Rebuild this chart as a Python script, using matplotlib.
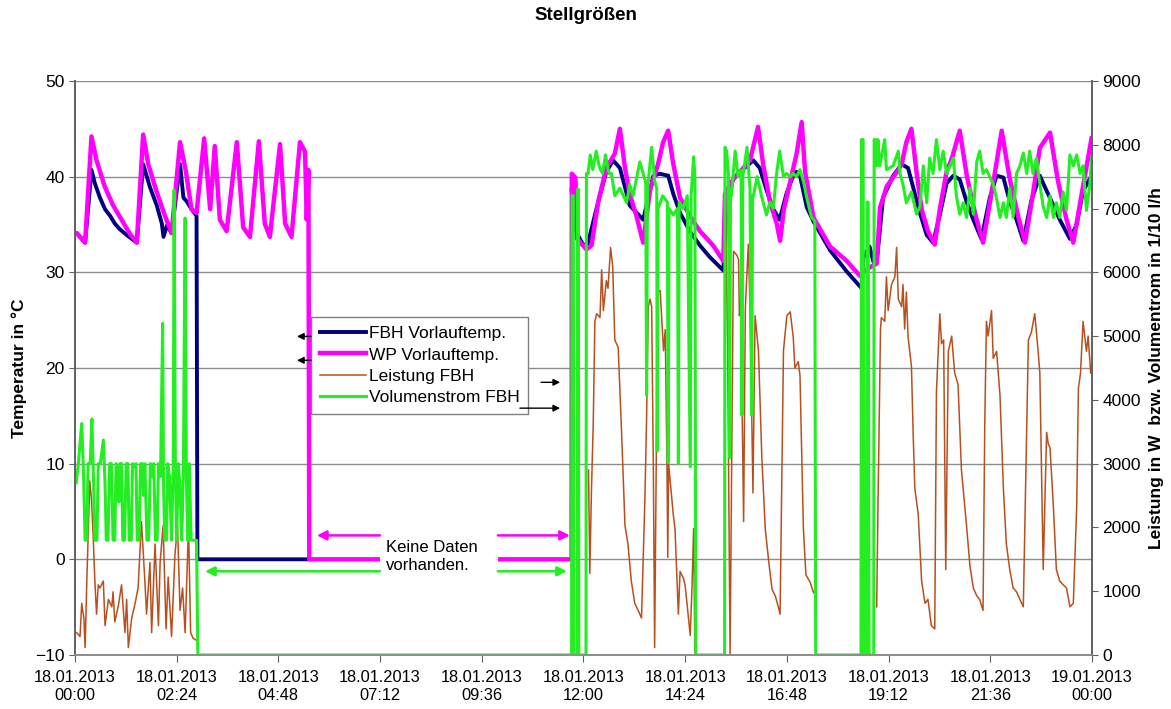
import numpy as np
import matplotlib
matplotlib.use("Agg")
import matplotlib.pyplot as plt
from matplotlib.patches import Rectangle

plt.rcParams['font.family'] = ['Liberation Sans', 'DejaVu Sans']

nan = float('nan')

# Zeitachse in Stunden ab 18.01.2013 00:00
tick_stunden = [0, 2.4, 4.8, 7.2, 9.6, 12.0, 14.4, 16.8, 19.2, 21.6, 24.0]
tick_labels = ['18.01.2013\n00:00', '18.01.2013\n02:24', '18.01.2013\n04:48',
               '18.01.2013\n07:12', '18.01.2013\n09:36', '18.01.2013\n12:00',
               '18.01.2013\n14:24', '18.01.2013\n16:48', '18.01.2013\n19:12',
               '18.01.2013\n21:36', '19.01.2013\n00:00']

# FBH Vorlauftemp. (°C)
fbh_h = [0.00, 0.04, 0.24, 0.39, 0.47, 0.59, 0.71, 0.83, 0.94, 1.06, 1.22, 1.46,
         1.61, 1.77, 1.93, 2.05, 2.09, 2.17, 2.28, 2.48, 2.56, 2.64, 2.75, 2.87,
         2.89, 5.53, 5.54,
         11.72, 11.82, 11.94, 12.07, 12.35, 12.54, 12.70, 12.86, 12.98, 13.09, 13.41,
         13.65, 13.80, 14.00, 14.12, 14.28, 14.51, 14.75, 14.98, 15.30, 15.38, 15.53,
         15.69, 16.01, 16.16, 16.32, 16.48, 16.63, 16.79, 16.95, 17.03, 17.11, 17.27,
         17.43, 17.82, 18.21, 18.57, 18.60, 18.75, 18.85, 18.92, 19.07, 19.31, 19.51,
         19.66, 19.78, 19.94, 20.10, 20.25, 20.41, 20.57, 20.73, 20.88, 21.04, 21.20,
         21.39, 21.59, 21.75, 21.91, 22.06, 22.22, 22.38, 22.57, 22.77, 22.89, 23.09,
         23.24, 23.48, 23.64, 23.79, 23.99]
fbh_t = [34.1, 34.1, 33.1, 40.7, 39.3, 37.8, 36.6, 35.9, 35.1, 34.5, 33.9, 33.1,
         41.3, 38.9, 37.0, 35.1, 33.7, 34.9, 34.1, 41.3, 37.8, 37.4, 36.6, 35.9,
         0.0, 0.0, nan,
         38.6, 34.3, 33.3, 32.4, 37.4, 40.5, 41.7, 40.9, 38.9, 37.0, 35.5,
         40.1, 40.3, 40.1, 38.2, 36.2, 34.3, 32.8, 31.6, 30.2, 37.0, 39.7,
         40.5, 41.7, 40.9, 38.6, 36.6, 35.5, 38.2, 40.1, 40.5, 40.1, 36.8,
         35.3, 32.3, 30.1, 28.3, 31.5, 32.7, 31.0, 31.0, 37.8, 40.1, 41.3,
         40.9, 38.9, 36.2, 33.9, 33.1, 36.0, 39.3, 40.1, 39.7, 37.4, 35.5,
         33.5, 37.8, 40.1, 39.9, 37.4, 35.5, 33.3, 37.5, 40.1, 38.9, 37.0,
         35.5, 33.5, 35.0, 38.5, 40.1]

# WP Vorlauftemp. (°C)
wp_h = [0.00, 0.04, 0.24, 0.39, 0.51, 0.70, 0.90, 1.10, 1.30, 1.46, 1.61, 1.73,
        1.90, 2.10, 2.28, 2.48, 2.62, 2.75, 2.87, 3.05, 3.19, 3.30, 3.42, 3.58,
        3.82, 3.97, 4.13, 4.34, 4.48, 4.60, 4.84, 4.96, 5.11, 5.31, 5.43, 5.47,
        5.51, 5.53, 11.72, 11.725, 11.81, 11.85, 12.07, 12.19, 12.35, 12.54, 12.74,
        12.86, 12.98, 13.09, 13.25, 13.41, 13.57, 13.76, 13.88, 14.00, 14.12, 14.28,
        14.51, 14.75, 15.06, 15.30, 15.34, 15.53, 15.69, 15.93, 16.12, 16.24, 16.40,
        16.56, 16.64, 16.73, 16.87, 17.03, 17.15, 17.23, 17.43, 17.82, 18.21, 18.53,
        18.60, 18.75, 18.92, 19.00, 19.16, 19.40, 19.51, 19.62, 19.74, 19.86, 19.98,
        20.13, 20.29, 20.41, 20.57, 20.70, 20.88, 21.05, 21.25, 21.43, 21.60, 21.75,
        21.87, 22.05, 22.25, 22.42, 22.60, 22.77, 23.01, 23.20, 23.40, 23.56, 23.75,
        23.99]
wp_t = [34.1, 34.1, 33.1, 44.2, 41.7, 39.0, 37.0, 35.5, 34.0, 33.1, 44.4, 41.3,
        38.8, 36.2, 34.1, 43.6, 40.5, 36.6, 36.2, 44.0, 36.6, 43.2, 35.5, 34.3,
        43.6, 34.7, 33.7, 43.7, 35.1, 33.7, 43.4, 35.1, 33.7, 43.6, 42.6, 35.5,
        40.7, 0.0, 0.0, 40.3, 39.9, 33.5, 32.4, 32.8, 37.4, 40.9, 42.4,
        45.0, 40.9, 38.2, 35.9, 33.1, 38.6, 41.3, 43.6, 44.8, 41.3, 37.8,
        35.9, 34.3, 32.8, 31.2, 38.2, 39.7, 40.5, 41.7, 45.2, 41.3, 37.4,
        35.1, 33.3, 36.6, 39.3, 42.4, 45.7, 40.5, 35.7, 32.7, 31.2, 29.6,
        30.0, 30.5, 30.9, 36.8, 39.0, 40.5, 41.3, 43.6, 45.0, 40.5, 36.6,
        34.3, 32.9, 36.6, 40.5, 42.0, 44.8, 40.0, 36.0, 33.1, 37.5, 41.5,
        44.8, 40.0, 36.0, 33.1, 38.0, 43.0, 44.6, 39.5, 35.5, 33.1, 38.0,
        44.0]

# Leistung FBH (W)
leistung_h = [0.04, 0.12, 0.16, 0.21, 0.24, 0.28, 0.35, 0.39, 0.43, 0.47, 0.51, 0.55,
              0.59, 0.67, 0.71, 0.79, 0.87, 0.90, 0.94, 1.02, 1.10, 1.18, 1.22, 1.26,
              1.34, 1.42, 1.49, 1.57, 1.65, 1.69, 1.77, 1.81, 1.89, 1.97, 2.01, 2.08,
              2.15, 2.20, 2.28, 2.36, 2.42, 2.48, 2.54, 2.60, 2.68, 2.73, 2.79, 2.87,
              2.88,
              12.12, 12.15, 12.19, 12.23, 12.27, 12.31, 12.39, 12.43, 12.47, 12.54, 12.58,
              12.64, 12.69, 12.74, 12.82, 12.90, 12.98, 13.05, 13.13, 13.21, 13.29, 13.37,
              13.45, 13.49, 13.53, 13.57, 13.61, 13.65, 13.68, 13.72, 13.76, 13.81, 13.89,
              13.93, 13.97, 13.99, 14.01, 14.12, 14.16, 14.20, 14.24, 14.28, 14.36, 14.40,
              14.47, 14.52, 14.56, 14.60, 14.63, 15.34, 15.35, 15.40, 15.46, 15.50, 15.54,
              15.62, 15.66, 15.68, 15.71, 15.78, 15.82, 15.89, 15.93, 16.00, 16.05, 16.13,
              16.21, 16.29, 16.37, 16.45, 16.53, 16.60, 16.64, 16.72, 16.80, 16.88, 16.95,
              16.99, 17.07, 17.11, 17.19, 17.25, 17.35, 17.43, 17.44,
              18.92, 18.95, 19.01, 19.03, 19.11, 19.15, 19.19, 19.27, 19.35, 19.39, 19.43,
              19.51, 19.54, 19.58, 19.62, 19.66, 19.74, 19.78, 19.82, 19.90, 19.98, 20.06,
              20.13, 20.21, 20.29, 20.33, 20.41, 20.45, 20.50, 20.55, 20.61, 20.69, 20.76,
              20.84, 20.92, 21.04, 21.12, 21.20, 21.28, 21.35, 21.43, 21.47, 21.51, 21.55,
              21.63, 21.67, 21.75, 21.83, 21.91, 21.98, 22.06, 22.14, 22.22, 22.30, 22.38,
              22.50, 22.57, 22.65, 22.73, 22.77, 22.85, 22.93, 22.97, 23.01, 23.09, 23.16,
              23.24, 23.32, 23.40, 23.48, 23.56, 23.64, 23.68, 23.73, 23.79, 23.83, 23.87,
              23.91, 23.97]
leistung_w = [350, 290, 810, 580, 116, 1160, 2730, 2440, 1860, 1160, 640, 1100,
              1050, 1160, 460, 870, 755, 990, 520, 755, 1100, 350, 870, 116,
              580, 810, 1050, 2090, 1160, 640, 1450, 350, 1740, 460, 1450, 2030,
              410, 1220, 290, 1570, 2030, 700, 1050, 350, 2030, 350, 260, 230,
              nan,
              2900, 1280, 2610, 3600, 5230, 5350, 5290, 6040, 5400, 5870, 5750,
              6390, 6100, 4940, 4820, 3490, 2030, 1740, 1160, 810, 700, 580,
              2440, 3720, 5460, 5580, 5460, 2900, 116, 3200, 5690, 5715, 4770,
              5100, 3040, 1530, 3000, 2200, 1980, 1310, 640, 1310, 1200, 1090,
              640, 307, 1030, 1980, 0, 0, 7220, 5000, 0, 3090, 6330,
              6270, 6200, 5320, 5550, 2090, 5430, 6440, 5490, 2540, 5320, 4770,
              3090, 1980, 1480, 1030, 920, 750, 640, 4770, 5320, 5380, 4990,
              4500, 4600, 4380, 1980, 1255, 1140, 975, nan,
              755, 2320, 5110, 5290, 5230, 5930, 5400, 5810, 5930, 6390, 5580,
              5460, 5810, 5110, 5690, 4990, 4530, 3490, 2610, 2210, 1160, 810,
              870, 460, 410, 4120, 5350, 4880, 4940, 1340, 4760, 5000, 4420,
              4240, 2900, 2030, 1400, 1050, 930, 870, 700, 3600, 5230, 5000,
              5400, 4650, 4760, 4070, 2610, 1740, 1340, 1050, 990, 870, 755,
              4940, 5060, 5350, 4760, 4420, 1340, 3490, 3310, 3250, 2320, 1340,
              1160, 1100, 1050, 755, 810, 2320, 4180, 4420, 5230, 5000, 4760,
              5000, 4420]

# Volumenstrom FBH (1/10 l/h)
volumen_h = [0.03, 0.08, 0.16, 0.20, 0.24, 0.28, 0.31, 0.36, 0.40, 0.44, 0.47, 0.52,
             0.55, 0.60, 0.67, 0.71, 0.74, 0.78, 0.82, 0.86, 0.90, 0.94, 0.97, 1.01,
             1.04, 1.06, 1.10, 1.13, 1.17, 1.21, 1.25, 1.28, 1.33, 1.36, 1.40, 1.44,
             1.47, 1.51, 1.55, 1.59, 1.62, 1.65, 1.70, 1.74, 1.78, 1.82, 1.86, 1.90,
             1.94, 1.97, 2.02, 2.07, 2.09, 2.12, 2.16, 2.19, 2.23, 2.28, 2.32, 2.34,
             2.37, 2.40, 2.44, 2.48, 2.52, 2.56, 2.60, 2.63, 2.66, 2.70, 2.74, 2.80,
             2.87, 2.90, 11.72, 11.73, 11.76, 11.77, 11.85, 11.86, 11.88, 11.89, 12.06,
             12.07, 12.11, 12.16, 12.22, 12.30, 12.38, 12.45, 12.52, 12.60, 12.66, 12.74,
             12.86, 13.02, 13.09, 13.17, 13.33, 13.41, 13.47, 13.49, 13.51, 13.61, 13.68,
             13.73, 13.74, 13.76, 13.87, 13.98, 14.00, 14.02, 14.12, 14.22, 14.24, 14.26,
             14.35, 14.45, 14.52, 14.54, 14.60, 14.63, 14.65, 15.33, 15.34, 15.38, 15.42,
             15.45, 15.47, 15.49, 15.58, 15.65, 15.72, 15.74, 15.76, 15.86, 15.93, 15.97,
             15.99, 16.01, 16.10, 16.20, 16.32, 16.40, 16.48, 16.55, 16.63, 16.72, 16.79,
             16.88, 16.95, 17.03, 17.11, 17.20, 17.26, 17.38, 17.46, 17.48, 18.55, 18.56,
             18.60, 18.62, 18.68, 18.69, 18.72, 18.74, 18.85, 18.86, 18.90, 18.92, 18.95,
             18.99, 19.11, 19.15, 19.31, 19.43, 19.47, 19.54, 19.62, 19.74, 19.86, 19.94,
             20.02, 20.10, 20.17, 20.25, 20.33, 20.41, 20.49, 20.57, 20.73, 20.80, 20.88,
             20.96, 21.04, 21.12, 21.20, 21.28, 21.35, 21.43, 21.51, 21.67, 21.75, 21.83,
             21.91, 21.98, 22.06, 22.14, 22.22, 22.30, 22.38, 22.46, 22.53, 22.61, 22.69,
             22.77, 22.85, 22.93, 23.01, 23.09, 23.16, 23.24, 23.32, 23.40, 23.48, 23.56,
             23.64, 23.72, 23.79, 23.87, 23.95, 23.99]
volumen_v = [2700, 3000, 3630, 2900, 1800, 1800, 3000, 3000, 3700, 2700, 1800, 1800,
             3000, 3000, 3370, 2700, 1800, 1800, 3000, 3000, 1800, 1800, 3000, 2900,
             2400, 3000, 3000, 1800, 1800, 3000, 3000, 1800, 1800, 3000, 2950, 3000,
             1800, 1800, 3000, 3000, 2500, 3000, 1800, 1800, 3000, 2800, 3000, 1800,
             1800, 3000, 2800, 5200, 2700, 1800, 1800, 3000, 2800, 1800, 3000, 7290,
             2900, 1800, 3000, 2600, 1800, 2900, 6850, 2800, 1800, 3000, 1800, 1800,
             1800, 0, 0, 7200, 7200, 0, 0, 7300, 7300, 0, 0,
             7550, 7550, 7840, 7610, 7900, 7640, 7550, 7840, 7550, 7550, 7200,
             7320, 7090, 7380, 7200, 7730, 7550, 7400, 4070, 7300, 7960, 7440,
             7300, 3200, 7000, 7200, 7100, 3020, 7000, 6900, 7000, 3000, 7100,
             7000, 7200, 2950, 7200, 7810, 7500, 0, 0, 7960, 7900, 7550,
             3090, 7300, 7200, 7900, 7500, 7600, 3760, 7500, 7960, 7300, 3760,
             7200, 7200, 7500, 7200, 6900, 7100, 7000, 7500, 7900, 7500, 7550,
             7500, 7550, 7500, 7610, 7400, 7200, 6860, 6800, 0, 0, 8080,
             8080, 0, 0, 7100, 7100, 0, 0, 8080, 8080, 7670, 8080,
             7670, 8080, 7610, 7670, 7900, 7550, 7380, 7090, 7260, 6910, 7030,
             7670, 7090, 7790, 7550, 8080, 7610, 7900, 7550, 7790, 7200, 6910,
             7090, 6860, 7320, 6910, 7730, 7900, 7550, 7610, 7380, 7150, 6860,
             7090, 6860, 7320, 6860, 7550, 7670, 7870, 7550, 7900, 7550, 7790,
             7380, 7030, 6860, 7200, 6860, 7090, 6860, 7260, 6970, 7840, 7670,
             7840, 7550, 7670, 6970, 7380, 7790]

farbe_fbh = '#000080'
farbe_wp = '#ff00ff'
farbe_leistung = '#b8501e'
farbe_volumen = '#22ee22'

fig = plt.figure(figsize=(11.71, 7.09), dpi=100)
ax1 = fig.add_axes([0.064, 0.0762, 0.8685, 0.8096])
ax2 = ax1.twinx()

l1, = ax1.plot(fbh_h, fbh_t, color=farbe_fbh, lw=2.8, label='FBH Vorlauftemp.')
l2, = ax1.plot(wp_h, wp_t, color=farbe_wp, lw=3.2, label='WP Vorlauftemp.')
l3, = ax2.plot(leistung_h, leistung_w, color=farbe_leistung, lw=1.1, label='Leistung FBH')
l4, = ax2.plot(volumen_h, volumen_v, color=farbe_volumen, lw=2.2, label='Volumenstrom FBH')

ax1.set_xlim(0, 24)
ax1.set_ylim(-10, 50)
ax2.set_ylim(0, 9000)
ax1.set_yticks(range(-10, 51, 10))
ax2.set_yticks(range(0, 9001, 1000))
ax1.set_xticks(tick_stunden)
ax1.set_xticklabels(tick_labels)

ax1.grid(axis='y', color='#8c8c8c', lw=1)
ax1.set_axisbelow(True)

for ax in (ax1, ax2):
    ax.spines['top'].set_visible(False)
    ax.spines['left'].set_color('#606060')
    ax.spines['right'].set_color('#606060')
    ax.spines['bottom'].set_color('#8c8c8c')
    for s in ax.spines.values():
        s.set_linewidth(1.2)
    ax.tick_params(labelsize=12.5, colors='#606060', labelcolor='black', length=4)
ax1.tick_params(axis='x', labelsize=11.8, length=5, pad=6)

ax1.set_ylabel('Temperatur in °C', fontsize=12.5, fontweight='bold', labelpad=6)
ax2.set_ylabel('Leistung in W  bzw. Volumentrom in 1/10 l/h', fontsize=12.5,
               fontweight='bold', rotation=90, labelpad=6)
fig.suptitle('Stellgrößen', fontsize=13.5, fontweight='bold', y=0.99)

# Hinweis "Keine Daten vorhanden."
ax2.add_patch(Rectangle((7.2, 1250), 2.78, 700, facecolor='white', edgecolor='none', zorder=4))
ax2.text(7.34, 1545, 'Keine Daten\nvorhanden.', fontsize=12, ha='left', va='center',
         linespacing=1.2, zorder=6)
pfeil = dict(arrowstyle='-|>', lw=1.8, mutation_scale=14, shrinkA=0, shrinkB=0)
ax2.annotate('', xy=(5.71, 1875), xytext=(7.2, 1875),
             arrowprops=dict(pfeil, color=farbe_wp), zorder=6)
ax2.annotate('', xy=(11.68, 1875), xytext=(9.98, 1875),
             arrowprops=dict(pfeil, color=farbe_wp), zorder=6)
ax2.annotate('', xy=(3.07, 1312), xytext=(7.2, 1312),
             arrowprops=dict(pfeil, color=farbe_volumen), zorder=6)
ax2.annotate('', xy=(11.61, 1312), xytext=(9.98, 1312),
             arrowprops=dict(pfeil, color=farbe_volumen), zorder=6)

leg = ax2.legend(handles=[l1, l2, l3, l4], loc='upper left', bbox_to_anchor=(0.232, 0.588),
                 fontsize=12.5, frameon=True, fancybox=False, edgecolor='#808080',
                 framealpha=1, handlelength=2.7, handletextpad=0.15, borderpad=0.5,
                 labelspacing=0.35, borderaxespad=0)
leg.get_frame().set_linewidth(1)
leg.set_zorder(7)

# Pfeile zur jeweiligen Achse
schwarz = dict(arrowstyle='-|>', lw=1.0, color='black', mutation_scale=10, shrinkA=0, shrinkB=0)
ax2.annotate('', xy=(5.24, 4995), xytext=(5.57, 4995), arrowprops=schwarz, zorder=8)
ax2.annotate('', xy=(5.24, 4620), xytext=(5.57, 4620), arrowprops=schwarz, zorder=8)
ax2.annotate('', xy=(11.45, 4275), xytext=(11.0, 4275), arrowprops=schwarz, zorder=8)
ax2.annotate('', xy=(11.45, 3870), xytext=(10.5, 3870), arrowprops=schwarz, zorder=8)

fig.savefig('out.png', dpi=100)
